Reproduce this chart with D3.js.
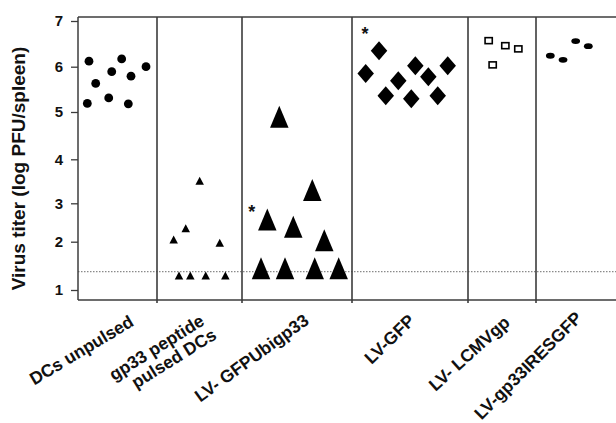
<!DOCTYPE html>
<html>
<head>
<meta charset="utf-8">
<script src="https://cdn.jsdelivr.net/npm/d3@7"></script>
<style>
  html, body { margin: 0; padding: 0; background: #fff; }
  svg { display: block; }
  text { font-family: "Liberation Sans", Arial, Helvetica, sans-serif; font-weight: bold; fill: #111; }
</style>
</head>
<body>
<svg id="chart" width="616" height="423"></svg>
<script>
// ---------------- DATA ----------------
const categories = ["DCs unpulsed", "gp33 peptide\npulsed DCs", "LV- GFPUbigp33", "LV-GFP", "LV- LCMVgp", "LV-gp33IRESGFP"];
const yTicks = [1, 2, 3, 4, 5, 6, 7];
const detectionLimit = 1.38;

// values (log PFU/spleen) and horizontal spread within each category (fraction of the category)
const dcsUnpulsed      = [6.12, 5.63, 5.19, 5.89, 5.31, 6.17, 5.79, 5.18, 6.00];
const dcsUnpulsedX     = [0.139, 0.224, 0.118, 0.427, 0.389, 0.553, 0.671, 0.637, 0.861];
const gp33Pulsed       = [2.06, 2.35, 3.51, 1.98, 1.30, 1.30, 1.30, 1.30];
const gp33PulsedX      = [0.196, 0.338, 0.502, 0.738, 0.259, 0.392, 0.573, 0.804];
const lvGFPUbigp33     = [4.90, 3.30, 2.58, 2.39, 2.04, 1.45, 1.45, 1.45, 1.45];
const lvGFPUbigp33X    = [0.339, 0.639, 0.230, 0.466, 0.748, 0.173, 0.391, 0.661, 0.879];
const lvGFP            = [6.35, 5.85, 5.36, 5.69, 6.02, 5.29, 5.78, 5.36, 6.02];
const lvGFPX           = [0.233, 0.118, 0.291, 0.399, 0.546, 0.511, 0.658, 0.739, 0.825];
const lvLCMVgp         = [6.57, 6.46, 6.39, 6.04];
const lvLCMVgpX        = [0.304, 0.549, 0.740, 0.363];
const lvGp33IRESGFP    = [6.24, 6.15, 6.56, 6.45];
const lvGp33IRESGFPX   = [0.179, 0.338, 0.496, 0.654];

// significance marks: category index, spread fraction, value
const starGroups = [2, 3];
const starX      = [0.088, 0.112];
const starValues = [2.90, 6.82];

// ---------------- LAYOUT ----------------
const W = 616, H = 423;
const groupEdges = [78, 157, 242, 352, 468, 536, 616];           // irregular category widths
const yTickPos   = [290, 241.7, 203.3, 159.3, 112, 66.7, 21];     // scanned axis spacing
const frameTop = 17, frameBottom = 300;
const labelLayout = [
  {dx: 17.5, y: 325, a: 31},
  {dx: 6,    y: 324, a: 32},
  {dx: 13,   y: 323, a: 36},
  {dx: 6,    y: 322, a: 44},
  {dx: 9,    y: 324, a: 42},
  {dx: 7,    y: 319, a: 45}
];

const svg = d3.select("#chart");
const x = d3.scaleLinear().domain(d3.range(groupEdges.length)).range(groupEdges);
const y = d3.scaleLinear().domain(yTicks).range(yTickPos);

const lineColor = "#3c3c3c";

// shapes
function triPath(w, h) { const p = d3.path(); p.moveTo(0, -h/2); p.lineTo(w/2, h/2); p.lineTo(-w/2, h/2); p.closePath(); return p.toString(); }
function diamondPath(w, h) { const p = d3.path(); p.moveTo(0, -h/2); p.lineTo(w/2, 0); p.lineTo(0, h/2); p.lineTo(-w/2, 0); p.closePath(); return p.toString(); }

const series = [
  {values: dcsUnpulsed,   spread: dcsUnpulsedX,   shape: "circle"},
  {values: gp33Pulsed,    spread: gp33PulsedX,    shape: "smallTri"},
  {values: lvGFPUbigp33,  spread: lvGFPUbigp33X,  shape: "bigTri"},
  {values: lvGFP,         spread: lvGFPX,         shape: "diamond"},
  {values: lvLCMVgp,      spread: lvLCMVgpX,      shape: "square"},
  {values: lvGp33IRESGFP, spread: lvGp33IRESGFPX, shape: "ellipse"}
];

// dotted detection limit
svg.append("line")
  .attr("x1", x(0)).attr("x2", W)
  .attr("y1", y(detectionLimit)).attr("y2", y(detectionLimit))
  .attr("stroke", "#8a8a8a").attr("stroke-width", 1.2)
  .attr("stroke-dasharray", "1.5,1.5");

// frame
const frame = svg.append("g").attr("stroke", lineColor).attr("fill", "none");
frame.append("line").attr("x1", x(0)).attr("x2", W).attr("y1", frameTop).attr("y2", frameTop).attr("stroke-width", 1.5);
frame.append("line").attr("x1", x(0)).attr("x2", W).attr("y1", frameBottom).attr("y2", frameBottom).attr("stroke-width", 1.5);
frame.append("line").attr("x1", x(0)).attr("x2", x(0)).attr("y1", frameTop).attr("y2", frameBottom).attr("stroke-width", 1.5);
frame.selectAll("line.sep").data(d3.range(1, categories.length)).join("line")
  .attr("class", "sep")
  .attr("x1", d => x(d)).attr("x2", d => x(d))
  .attr("y1", frameTop).attr("y2", frameBottom + 3)
  .attr("stroke-width", 1.6);

// y axis
const yAxis = svg.append("g")
  .attr("transform", `translate(${x(0)},0)`)
  .call(d3.axisLeft(y).tickValues(yTicks).tickSize(7).tickPadding(8).tickFormat(d3.format("d")));
yAxis.select(".domain").remove();
yAxis.selectAll(".tick line").attr("stroke", lineColor).attr("stroke-width", 1.3);
yAxis.selectAll(".tick text").attr("font-size", 15).attr("font-family", null).attr("fill", "#111");

// y title
svg.append("text")
  .attr("transform", `translate(25,${(frameTop + frameBottom) / 2 + 10}) rotate(-90)`)
  .attr("text-anchor", "middle")
  .attr("font-size", 19)
  .text("Virus titer (log PFU/spleen)");

// x labels
categories.forEach((c, i) => {
  const L = labelLayout[i];
  const t = svg.append("text")
    .attr("transform", `translate(${x(i + 0.5) + L.dx},${L.y}) rotate(${-L.a})`)
    .attr("text-anchor", "end")
    .attr("font-size", 17.5);
  c.split("\n").forEach((line, k) => {
    t.append("tspan").attr("x", k ? 3 : 0).attr("dy", k ? "1.05em" : 0).text(line);
  });
});

// points
series.forEach((s, gi) => {
  const pts = s.values.map((v, k) => ({v, px: x(gi + s.spread[k])}));
  const g = svg.append("g");
  const sel = g.selectAll("g").data(pts).join("g")
    .attr("transform", d => `translate(${d.px},${y(d.v)})`);
  if (s.shape === "circle") {
    sel.append("circle").attr("r", 4.4).attr("fill", "#000");
  } else if (s.shape === "smallTri") {
    sel.append("path").attr("d", triPath(8.5, 8)).attr("fill", "#000");
  } else if (s.shape === "bigTri") {
    sel.append("path").attr("d", triPath(18.5, 22)).attr("fill", "#000");
  } else if (s.shape === "diamond") {
    sel.append("path").attr("d", diamondPath(16.5, 19)).attr("fill", "#000");
  } else if (s.shape === "square") {
    sel.append("rect").attr("x", -3.6).attr("y", -3).attr("width", 7.2).attr("height", 6)
      .attr("fill", "#fff").attr("stroke", "#000").attr("stroke-width", 1.6);
  } else if (s.shape === "ellipse") {
    sel.append("ellipse").attr("rx", 4.4).attr("ry", 2.9).attr("fill", "#000");
  }
});

// asterisks
svg.selectAll("text.star").data(starGroups).join("text")
  .attr("class", "star")
  .attr("x", (g, i) => x(g + starX[i]))
  .attr("y", (g, i) => y(starValues[i]))
  .attr("dy", "0.6em")
  .attr("text-anchor", "middle")
  .attr("font-size", 18)
  .text("*");
</script>
</body>
</html>
